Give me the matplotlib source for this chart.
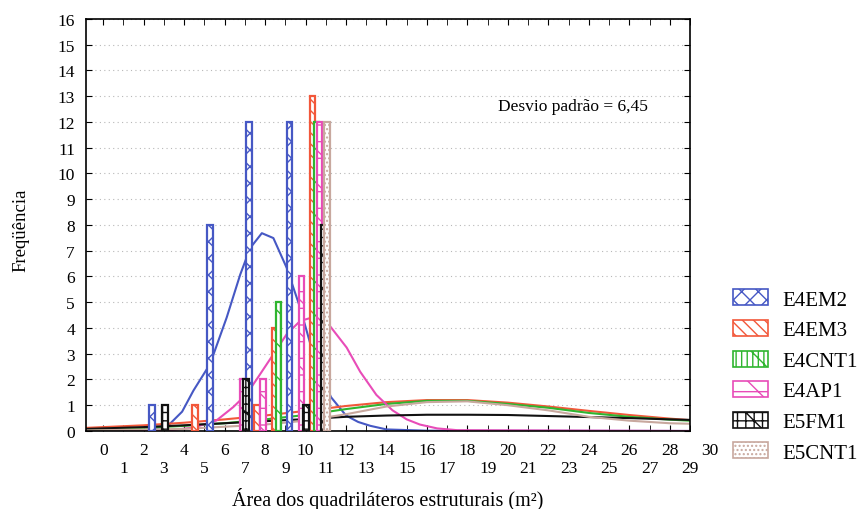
import numpy as np
import matplotlib
matplotlib.use('Agg')
import matplotlib.pyplot as plt
from matplotlib.patches import Patch
import matplotlib.transforms as mtransforms

plt.rcParams['font.family'] = ['Liberation Serif', 'DejaVu Serif']
plt.rcParams['hatch.linewidth'] = 1.0

# Séries (posição da barra, frequência)
series = ['E4EM2', 'E4EM3', 'E4CNT1', 'E4AP1', 'E5FM1', 'E5CNT1']
colors = ['#4658c4', '#f2573a', '#2fb52f', '#e84cb8', '#111111', '#c8a89e']
hatches = ['xx', '\\\\\\', '|||\\', '-\\', '++\\', '....']

bar_x = {
    'E4EM2': [2.40, 5.28, 7.21, 9.20],
    'E4EM3': [4.54, 7.59, 8.49, 10.34],
    'E4CNT1': [8.66, 10.55],
    'E4AP1': [6.90, 7.89, 9.81, 10.68],
    'E5FM1': [3.06, 7.05, 10.02, 10.91],
    'E5CNT1': [11.05],
}
bar_h = {
    'E4EM2': [1, 8, 12, 12],
    'E4EM3': [1, 1, 4, 13],
    'E4CNT1': [5, 12],
    'E4AP1': [2, 2, 6, 12],
    'E5FM1': [1, 2, 1, 8],
    'E5CNT1': [12],
}

# Curvas ajustadas
curve_x = {
    'E4EM2': [-0.85, 1.0, 2.0, 2.8, 3.3, 3.9, 4.46, 5.28, 6.1, 6.77, 7.26, 7.84, 8.41, 9.07, 9.73, 10.47, 11.26, 12.0, 12.6, 13.2, 14.0, 16.0, 29.0],
    'E4EM3': [-0.85, 0, 2, 4, 6, 8, 10, 12, 14, 16, 18, 20, 22, 24, 26, 28, 29],
    'E4CNT1': [-0.85, 0, 2, 4, 6, 8, 10, 12, 14, 16, 18, 20, 22, 24, 26, 28, 29],
    'E4AP1': [-0.85, 3.0, 4.46, 5.6, 6.43, 7.1, 7.75, 8.41, 9.07, 9.73, 10.3, 11.2, 12.03, 12.7, 13.5, 14.3, 15.0, 15.65, 16.5, 17.5, 29.0],
    'E5FM1': [-0.85, 0, 2, 4, 6, 8, 10, 12, 14, 16, 18, 20, 22, 24, 26, 28, 29],
    'E5CNT1': [-0.85, 0, 4, 8, 10, 12, 14, 16, 18, 20, 22, 24, 26, 28, 29],
}
curve_y = {
    'E4EM2': [0.0, 0.01, 0.04, 0.14, 0.28, 0.75, 1.57, 2.6, 4.4, 6.07, 7.1, 7.68, 7.49, 6.33, 4.79, 2.73, 1.31, 0.6, 0.35, 0.2, 0.06, 0.01, 0.0],
    'E4EM3': [0.12, 0.15, 0.22, 0.32, 0.45, 0.6, 0.78, 0.97, 1.12, 1.2, 1.2, 1.1, 0.95, 0.78, 0.62, 0.48, 0.42],
    'E4CNT1': [0.05, 0.07, 0.12, 0.2, 0.3, 0.45, 0.62, 0.85, 1.05, 1.17, 1.17, 1.05, 0.9, 0.7, 0.55, 0.44, 0.4],
    'E4AP1': [0.0, 0.0, 0.13, 0.41, 0.93, 1.44, 2.2, 2.98, 3.76, 4.27, 4.4, 4.08, 3.24, 2.3, 1.4, 0.8, 0.45, 0.25, 0.1, 0.03, 0.0],
    'E5FM1': [0.08, 0.1, 0.15, 0.22, 0.3, 0.38, 0.46, 0.55, 0.6, 0.63, 0.63, 0.62, 0.58, 0.54, 0.5, 0.45, 0.43],
    'E5CNT1': [0.02, 0.03, 0.08, 0.25, 0.4, 0.65, 0.95, 1.12, 1.15, 1.0, 0.8, 0.55, 0.4, 0.3, 0.28],
}

x_ticks = list(range(0, 30))
y_ticks = list(range(0, 17))

fig = plt.figure(figsize=(8.61, 5.10), dpi=100)
ax = fig.add_axes([0.0999, 0.153, 0.7015, 0.808])

# curvas primeiro, barras por cima (fundo branco)
for name, col in zip(series, colors):
    ax.plot(curve_x[name], curve_y[name], color=col, lw=1.5, zorder=2)

for name, col, hat in zip(series, colors, hatches):
    ax.bar(bar_x[name], bar_h[name], width=0.27, color='white', edgecolor=col,
           hatch=hat, linewidth=1.6, zorder=3)

ax.set_xlim(-0.85, 29)
ax.set_ylim(0, 16)
ax.set_yticks(y_ticks)
ax.grid(axis='y', color='#b8b8b8', linestyle=(0, (1, 3)), linewidth=0.8, zorder=0)

# rótulos do eixo x alternados em duas linhas
ax.set_xticks([t for t in x_ticks if t % 2 == 0])
ax.set_xticks([t for t in x_ticks if t % 2 == 1], minor=True)
ax.set_xticklabels([str(t) for t in x_ticks if t % 2 == 0])
ax.set_xticklabels([str(t) for t in x_ticks if t % 2 == 1], minor=True)
ax.tick_params(axis='x', which='major', direction='in', length=4, pad=8, labelsize=12.5, top=True)
ax.tick_params(axis='x', which='minor', direction='in', length=4, pad=21, labelsize=12.5, top=True)
ax.tick_params(axis='y', direction='in', length=4, pad=8, labelsize=12.5, right=True)
ax.text(30, -0.027, '30', transform=mtransforms.blended_transform_factory(ax.transData, ax.transAxes),
        ha='center', va='top', fontsize=12.5, clip_on=False)
for sp in ax.spines.values():
    sp.set_linewidth(1.2)

ax.set_ylabel('Freqüência', fontsize=13.5)
ax.yaxis.set_label_coords(-0.093, 0.49)
ax.set_xlabel('Área dos quadriláteros estruturais (m²)', fontsize=14.5)
ax.xaxis.set_label_coords(0.5, -0.136)

ax.text(19.5, 12.6, 'Desvio padrão = 6,45', fontsize=12.5, ha='left', va='center')

handles = [Patch(facecolor='white', edgecolor=c, hatch=h, linewidth=1.2)
           for c, h in zip(colors, hatches)]
fig.legend(handles, series, loc='upper left', bbox_to_anchor=(0.842, 0.447),
           frameon=False, fontsize=15, handlelength=1.68, handleheight=0.8,
           labelspacing=0.5, handletextpad=0.67, borderaxespad=0)

fig.savefig('out.png', dpi=100)
